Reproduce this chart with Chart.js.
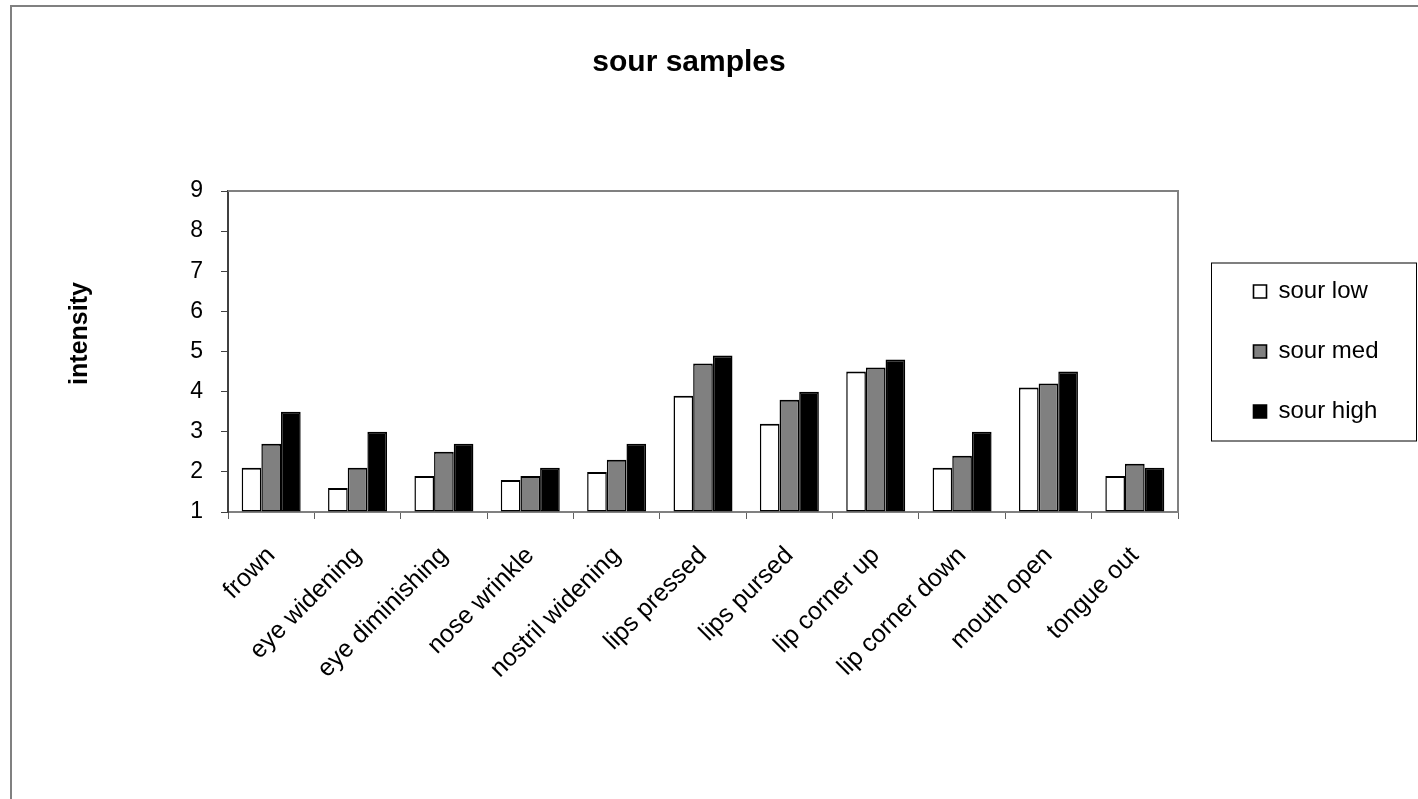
<!DOCTYPE html>
<html>
<head>
<meta charset="utf-8">
<title>sour samples</title>
<script src="https://cdn.jsdelivr.net/npm/chart.js@4.4.1/dist/chart.umd.min.js"></script>
<style>
  html, body { margin: 0; padding: 0; background: #fff; overflow: hidden; }
  #wrap { position: relative; width: 1418px; height: 799px; }
</style>
</head>
<body>
<div id="wrap"><canvas id="chart" width="1418" height="799"></canvas></div>
<script>
// Facial expression intensity ratings for the three sour concentrations
const categories = ['frown', 'eye widening', 'eye diminishing', 'nose wrinkle', 'nostril widening',
  'lips pressed', 'lips pursed', 'lip corner up', 'lip corner down', 'mouth open', 'tongue out'];
const sourLow  = [2.1, 1.6, 1.9, 1.8, 2.0, 3.9, 3.2, 4.5, 2.1, 4.1, 1.9];
const sourMed  = [2.7, 2.1, 2.5, 1.9, 2.3, 4.7, 3.8, 4.6, 2.4, 4.2, 2.2];
const sourHigh = [3.5, 3.0, 2.7, 2.1, 2.7, 4.9, 4.0, 4.8, 3.0, 4.5, 2.1];
const seriesNames = ['sour low', 'sour med', 'sour high'];
const yTickValues = [1, 2, 3, 4, 5, 6, 7, 8, 9];
const chartTitle = 'sour samples';
const yAxisTitle = 'intensity';

const FONT = "'Liberation Sans', Arial, Helvetica, sans-serif";
Chart.defaults.font.family = FONT;
Chart.defaults.color = '#000';

const barBorder = { top: 2, bottom: 1.5, left: 1.5, right: 1.5 };

function series(label, data, fill) {
  return {
    label, data,
    base: yTickValues[0],
    backgroundColor: fill,
    borderColor: '#000',
    borderWidth: barBorder,
    borderSkipped: false,
    categoryPercentage: 0.683,
    barPercentage: 1.0
  };
}

// Outer chart frame, plot frame, legend frame and the rotated value-axis title
const decorations = {
  id: 'decorations',
  beforeDraw(chart) {
    const ctx = chart.ctx;
    ctx.save();
    ctx.fillStyle = '#fff';
    ctx.fillRect(0, 0, chart.width, chart.height);
    ctx.strokeStyle = '#808080';
    ctx.lineWidth = 2;
    ctx.strokeRect(11, 6, chart.width + 40, chart.height + 40);
    ctx.restore();
  },
  beforeDatasetsDraw(chart) {
    const { ctx, chartArea: a } = chart;
    ctx.save();
    ctx.strokeStyle = '#808080';
    ctx.lineWidth = 2;
    ctx.beginPath();
    ctx.moveTo(a.left, a.top);
    ctx.lineTo(a.right, a.top);
    ctx.lineTo(a.right, a.bottom);
    ctx.stroke();
    ctx.restore();
  },
  afterDraw(chart) {
    const { ctx, chartArea: a } = chart;
    ctx.save();
    // legend frame around the legend items
    const boxes = chart.legend.legendHitBoxes;
    if (boxes && boxes.length) {
      const x0 = Math.min(...boxes.map(b => b.left)) - 42.5;
      const y0 = boxes[0].top - 17;
      const y1 = boxes[boxes.length - 1].top + boxes[boxes.length - 1].height + 17;
      ctx.strokeStyle = '#000';
      ctx.lineWidth = 1;
      ctx.strokeRect(x0 + 0.5, y0 + 0.5, 205, y1 - y0);
    }
    // value-axis title
    ctx.translate(80, (a.top + a.bottom) / 2 - 18);
    ctx.rotate(-Math.PI / 2);
    ctx.font = 'bold 25px ' + FONT;
    ctx.fillStyle = '#000';
    ctx.textAlign = 'center';
    ctx.textBaseline = 'middle';
    ctx.fillText(yAxisTitle, 0, 0);
    ctx.restore();
  }
};

new Chart(document.getElementById('chart'), {
  type: 'bar',
  data: {
    labels: categories,
    datasets: [
      series(seriesNames[0], sourLow, '#ffffff'),
      series(seriesNames[1], sourMed, '#808080'),
      series(seriesNames[2], sourHigh, '#000000')
    ]
  },
  options: {
    responsive: false,
    animation: false,
    devicePixelRatio: 1,
    layout: { padding: { left: 0, right: 40, top: 0, bottom: 0 } },
    plugins: {
      tooltip: { enabled: false },
      title: {
        display: true,
        text: chartTitle,
        color: '#000',
        font: { size: 30, weight: 'bold' },
        padding: { top: 45, bottom: 110 }
      },
      legend: {
        position: 'right',
        fullSize: false,
        maxWidth: 160.5,
        onClick: null,
        labels: {
          boxWidth: 13,
          boxHeight: 13,
          padding: 36,
          color: '#000',
          font: { size: 24 }
        }
      }
    },
    scales: {
      x: {
        grid: { display: true, drawOnChartArea: false, offset: true, tickLength: 7, color: '#606060', lineWidth: 1 },
        border: { display: true, color: '#808080', width: 2 },
        ticks: { autoSkip: false, minRotation: 45, maxRotation: 45, padding: 22, font: { size: 25 }, color: '#000' },
        afterFit(s) { s.height = 287; }
      },
      y: {
        min: yTickValues[0],
        max: yTickValues[yTickValues.length - 1],
        grid: { display: true, drawOnChartArea: false, tickLength: 7, color: '#404040', lineWidth: 1 },
        border: { display: true, color: '#404040', width: 2 },
        ticks: { padding: 18, font: { size: 23 }, color: '#000' },
        afterBuildTicks(s) { s.ticks = yTickValues.map(v => ({ value: v })); },
        afterFit(s) { s.width = 228; }
      },
      gap: {
        type: 'linear',
        position: 'right',
        display: true,
        grid: { display: false },
        border: { display: false },
        ticks: { display: false },
        afterFit(s) { s.width = 39.5; }
      }
    }
  },
  plugins: [decorations]
});
</script>
</body>
</html>
